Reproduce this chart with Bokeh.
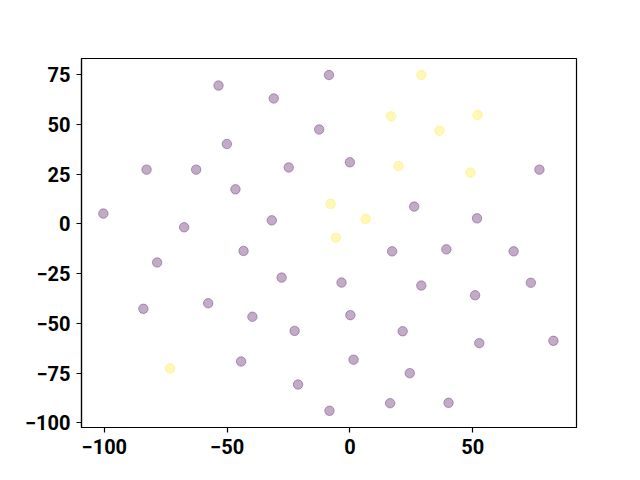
from bokeh.plotting import figure
from bokeh.models import Range1d, FixedTicker
from bokeh.embed import file_html
from bokeh.resources import INLINE

purple_x = [-100.4, -82.8, -67.5, -62.6, -53.5, -50.1, -46.6, -31.8, -31.0, -24.9, -12.5,
            -8.5, 0.0, 77.2, 26.2, 51.8,
            -43.3, -78.5, -27.8, -84.1, -57.7, -39.7, -22.5, -44.3, -21.1,
            17.2, 39.3, 66.7, -3.4, 29.1, 73.7, 51.0, 0.2, 21.5, 52.7, 82.9, 1.5, 24.4, -8.3, 16.4, 40.2]
purple_y = [5.2, 27.3, -1.7, 27.3, 69.6, 40.2, 17.4, 1.8, 63.1, 28.4, 47.5,
            74.9, 31.0, 27.3, 8.7, 2.8,
            -13.6, -19.4, -27.0, -42.7, -39.9, -46.7, -53.8, -69.2, -80.8,
            -13.8, -12.8, -13.8, -29.5, -31.0, -29.6, -35.9, -45.9, -54.0, -60.0, -58.8, -68.3, -75.1, -94.0, -90.2, -90.0]
yellow_x = [29.1, 16.8, 52.0, 36.5, 19.8, 49.1, -7.8, 6.4, -5.7, -73.2]
yellow_y = [74.9, 54.1, 54.8, 46.9, 29.1, 25.8, 10.1, 2.5, -6.9, -72.7]

x_ticks = [-100, -50, 0, 50]
y_ticks = [-100, -75, -50, -25, 0, 25, 50, 75]

def lab(v):
    return str(v).replace("-", "\u2212")

p = figure(width=640, height=480, output_backend="svg", toolbar_location=None,
           x_range=Range1d(-109.3, 92.3), y_range=Range1d(-102.4, 83.2),
           min_border_left=81, min_border_right=64, min_border_top=58, min_border_bottom=53)

p.scatter(purple_x, purple_y, size=9.5, fill_color="#440154", fill_alpha=0.33,
          line_color="#440154", line_alpha=0.33)
p.scatter(yellow_x, yellow_y, size=9.5, fill_color="#fde725", fill_alpha=0.33,
          line_color="#fde725", line_alpha=0.33)

p.xgrid.visible = False
p.ygrid.visible = False
p.outline_line_color = "black"
p.outline_line_width = 1.2

p.xaxis.ticker = FixedTicker(ticks=x_ticks)
p.yaxis.ticker = FixedTicker(ticks=y_ticks)
p.xaxis.major_label_overrides = {v: lab(v) for v in x_ticks}
p.yaxis.major_label_overrides = {v: lab(v) for v in y_ticks}

for ax in (p.xaxis[0], p.yaxis[0]):
    ax.minor_tick_line_color = None
    ax.major_tick_in = 0
    ax.major_tick_out = 5
    ax.major_tick_line_width = 1.2
    ax.axis_line_width = 1.2
    ax.major_label_text_font = "Roboto"
    ax.major_label_text_font_style = "bold"
    ax.major_label_text_font_size = "20px"
    ax.major_label_text_color = "black"
    ax.major_label_standoff = 6

p.background_fill_color = "white"
p.border_fill_color = "white"

open("out.html", "w").write(file_html(p, INLINE))
